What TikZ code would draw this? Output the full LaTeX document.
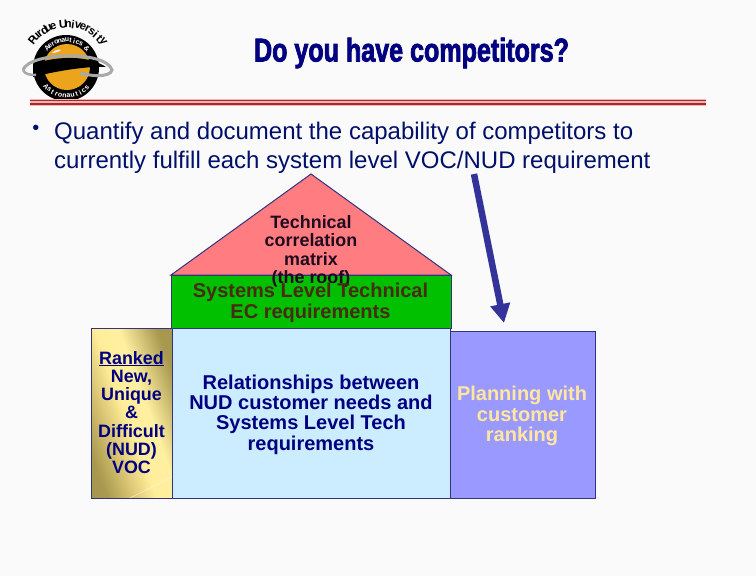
\documentclass[tikz,border=0pt]{standalone}
\usepackage{fontspec}
\usetikzlibrary{arrows.meta}
\setmainfont{Liberation Sans}
\newfontfamily\titlefont[FakeStretch=0.76,FakeBold=2.2]{Liberation Sans Bold}
\definecolor{navytxt}{HTML}{000080}
\definecolor{bodytxt}{HTML}{00106A}
\definecolor{pagebg}{HTML}{FAFAFA}
\definecolor{rooffill}{HTML}{FF7C80}
\definecolor{rooftxt}{HTML}{200A20}
\definecolor{ectxt}{HTML}{4A2A10}
\definecolor{plantxt}{HTML}{FFE79F}
\definecolor{greenfill}{HTML}{00C000}
\definecolor{paleblue}{HTML}{CCECFF}
\definecolor{lavender}{HTML}{9999FF}
\definecolor{edgeblue}{HTML}{333380}
\definecolor{arrowblue}{HTML}{333399}
\definecolor{ruleRed}{HTML}{A52A2A}
\definecolor{ruleGlow}{HTML}{F5B5B5}
\definecolor{orb}{HTML}{EBA41C}
\definecolor{ring}{HTML}{A9A9A9}
\pgfdeclareverticalshading{goldband}{100bp}{
  rgb(0bp)=(0.62,0.56,0.30);
  rgb(25bp)=(0.66,0.60,0.31);
  rgb(36bp)=(0.84,0.76,0.44);
  rgb(47bp)=(1,0.93,0.60);
  rgb(58bp)=(1,0.94,0.63);
  rgb(75bp)=(0.66,0.60,0.31);
  rgb(100bp)=(0.62,0.56,0.30)}
\tikzset{
  boxtext/.style={font=\bfseries\fontsize{20}{20.4}\selectfont,text=navytxt,align=center,inner sep=0pt},
  smalltext/.style={font=\bfseries\fontsize{17.9}{18.3}\selectfont,text=navytxt,align=center,inner sep=0pt},
  panel/.style={draw=edgeblue,line width=1pt},
  bodyline/.style={font=\fontsize{24}{29.2}\selectfont,text=bodytxt,align=left,anchor=north west,inner sep=0pt},
  logoouter/.style={font=\bfseries\fontsize{11.5}{11.5}\selectfont,text=black,inner sep=0pt},
  logoinner/.style={font=\bfseries\fontsize{7}{7}\selectfont,text=white,inner sep=0pt}
}
\begin{document}
\begin{tikzpicture}[x=1pt,y=-1pt]
\useasboundingbox (0,0) rectangle (756,576);
\fill[pagebg] (0,0) rectangle (756,576);
% logo
\fill[black] (66,68) circle (33);
\fill[orb] (67,67) circle (23);
\fill[white!85!orb] (52,53) .. controls (55,50) and (59,49) .. (61,50) .. controls (59,52) and (55,53) .. (52,53) -- cycle;
\fill[black] (33,64) .. controls (60,55) and (90,56) .. (106,67) .. controls (90,66) and (60,70) .. (33,77) -- cycle;
\draw[ring,line width=3pt] (23,70) .. controls (29,52) and (106,50) .. (112,70) .. controls (110,78) and (90,76) .. (80,73);
\draw[ring,line width=2.5pt] (23,70) .. controls (25,74) and (29,75) .. (36,75);
\foreach \c [count=\i from 0] in {P,u,r,d,u,e,{},U,n,i,v,e,r,s,i,t,y}
  \node[logoouter,rotate={141-6.56*\i-90}] at ({67+44*cos(141-6.56*\i)},{68-44*sin(141-6.56*\i)}) {\c};
\foreach \c [count=\i from 0] in {A,e,r,o,n,a,u,t,i,c,s,{},{\&}}
  \node[logoinner,rotate={135-7.5*\i-90}] at ({67+28*cos(135-7.5*\i)},{68-28*sin(135-7.5*\i)}) {\c};
\foreach \c [count=\i from 0] in {A,s,t,r,o,n,a,u,t,i,c,s}
  \node[logoinner,rotate={222+8.5*\i+90}] at ({67+28*cos(222+8.5*\i)},{68-28*sin(222+8.5*\i)}) {\c};
% rules
\fill[ruleGlow] (30,98.6) rectangle (705.5,105.6);
\fill[ruleRed] (30,99.5) rectangle (705.5,101);
\fill[ruleRed] (30,103) rectangle (705.5,104.8);
% title
\node[font=\titlefont\fontsize{33}{36}\selectfont,text=navytxt,inner sep=0pt] (title) at (411.5,53) {Do you have competitors?};
% bullet text
\node[font=\fontsize{20}{20}\selectfont,text=bodytxt,inner sep=0pt] (bullet) at (36,130) {•};
\node[bodyline] (body) at (54,121.5) {Quantify and document the capability of competitors to\\currently fulfill each system level VOC/NUD requirement};
% house
\draw[panel,fill=rooffill] (311,174) -- (451,275) -- (171,275) -- cycle;
\draw[panel,fill=greenfill] (171,275) rectangle (451,328);
\node[smalltext,text=rooftxt] (roof) at (311,251.5) {Technical\\correlation\\matrix\\(the roof)};
\node[boxtext,text=ectxt] (ec) at (310.5,303) {Systems Level Technical\\EC requirements};
\draw[panel,shading=goldband,shading angle=-70] (91,328) rectangle (172,498);
\draw[white,opacity=0.6,line width=0.5pt] (130,498) -- (172,477);
\node[smalltext] (voc) at (131.5,412.5) {\underline{Ranked}\\New,\\Unique\\\&\\Difficult\\(NUD)\\VOC};
\draw[panel,fill=paleblue] (172,328) rectangle (450,498);
\node[boxtext] (rel) at (311,414.5) {Relationships between\\NUD customer needs and\\Systems Level Tech\\requirements};
\draw[panel,fill=lavender] (450,331) rectangle (595,498);
\node[boxtext,text=plantxt] (plan) at (522,416) {Planning with\\customer\\ranking};
% arrow
\coordinate (arrstart) at (474,174);
\coordinate (arrend) at (504,323);
\draw[arrowblue,line width=6.5pt,-{Triangle[length=19pt,width=19pt]}] (arrstart) -- (arrend);
\end{tikzpicture}
\end{document}
